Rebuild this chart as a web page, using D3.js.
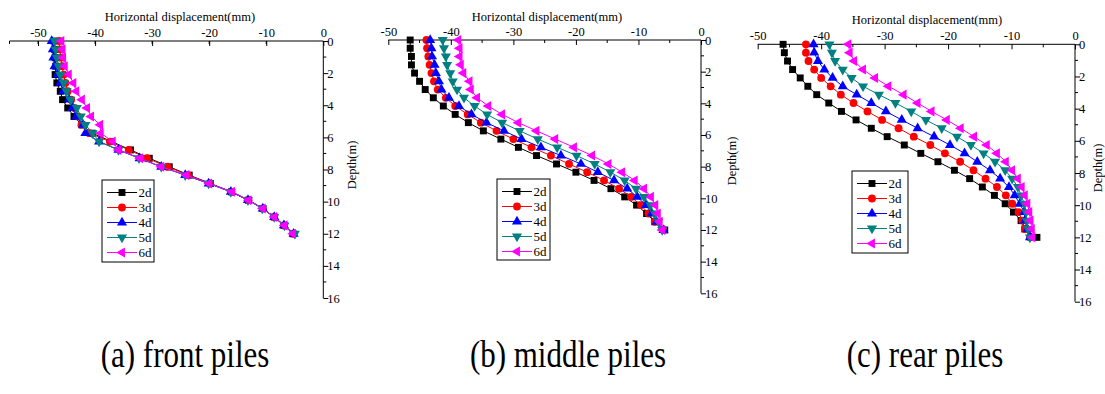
<!DOCTYPE html>
<html>
<head>
<meta charset="utf-8">
<script src="https://cdn.jsdelivr.net/npm/d3@7"></script>
<style>
  body { margin: 0; background: #fff; }
  svg { display: block; font-family: "Liberation Serif", "Times New Roman", serif; }
</style>
</head>
<body>
<svg id="chart" width="1105" height="394"></svg>
<script>
// ── data ───────────────────────────────────────────────────
const depth = [0, 0.52, 1.04, 1.57, 2.09, 2.61, 3.13, 3.65, 4.17, 4.70, 5.22, 5.74,
               6.26, 6.78, 7.30, 7.83, 8.35, 8.87, 9.39, 9.91, 10.43, 10.96, 11.48, 12.0];
const seriesNames = ['2d', '3d', '4d', '5d', '6d'];
const seriesColors = ['#000000', '#ff0000', '#0000ff', '#008080', '#ff00ff'];
const xTicks = [-50, -40, -30, -20, -10, 0];
const yTicks = [0, 2, 4, 6, 8, 10, 12, 14, 16];
const captions = ['(a) front piles', '(b) middle piles', '(c) rear piles'];

// (a) front piles
const front2d = [-47.2, -47.1, -47.0, -46.9, -47.0, -46.7, -46.1, -45.7, -44.8, -43.7, -42.3, -40.5,
                 -37.1, -33.8, -30.5, -27.0, -23.5, -19.8, -16.1, -13.1, -10.6, -8.6, -6.9, -5.3];
const front3d = [-46.3, -46.2, -46.0, -45.8, -45.5, -45.2, -44.8, -44.2, -43.6, -43.0, -42.4, -41.0,
                 -37.4, -34.1, -30.9, -27.3, -23.7, -19.9, -16.1, -13.1, -10.6, -8.6, -6.9, -5.3];
const front4d = [-47.6, -47.4, -47.3, -47.1, -46.6, -46.1, -45.6, -44.6, -44.0, -43.3, -42.1, -41.7,
                 -39.3, -35.9, -32.2, -28.4, -24.2, -20.1, -16.2, -13.2, -10.6, -8.6, -6.9, -5.2];
const front5d = [-47.1, -46.9, -46.7, -46.4, -46.1, -45.5, -45.0, -44.3, -43.2, -42.5, -41.7, -40.4,
                 -39.3, -35.9, -32.3, -28.4, -24.2, -20.1, -16.2, -13.2, -10.7, -8.6, -6.8, -5.0];
const front6d = [-45.9, -45.7, -45.6, -45.3, -44.6, -43.8, -43.3, -42.3, -41.4, -40.7, -39.1, -39.0,
                 -36.9, -35.9, -32.1, -28.4, -24.0, -20.0, -16.0, -13.1, -10.6, -8.6, -6.8, -5.3];

// (b) middle piles
const middle2d = [-46.5, -46.5, -46.3, -46.3, -45.8, -45.0, -44.1, -42.8, -41.2, -39.3, -37.2, -34.8,
                  -32.0, -29.2, -26.3, -23.1, -20.0, -17.1, -14.4, -12.2, -10.3, -8.7, -7.4, -5.8];
const middle3d = [-43.9, -43.8, -43.6, -43.4, -43.1, -42.7, -42.1, -40.8, -39.3, -37.3, -35.2, -32.7,
                  -30.0, -27.1, -24.0, -21.1, -18.2, -15.5, -13.1, -11.2, -9.6, -8.4, -7.4, -6.0];
const middle4d = [-43.3, -43.1, -43.0, -42.6, -42.4, -41.9, -41.5, -40.3, -38.7, -36.7, -34.3, -31.5,
                  -28.7, -25.6, -22.4, -19.2, -16.5, -13.9, -11.8, -10.2, -8.8, -7.9, -7.1, -6.0];
const middle5d = [-41.3, -41.1, -40.8, -40.6, -40.1, -39.7, -39.0, -37.9, -36.2, -34.2, -31.8, -29.0,
                  -26.1, -23.0, -19.9, -17.0, -14.5, -12.2, -10.4, -9.1, -8.1, -7.4, -6.8, -6.2];
const middle6d = [-38.8, -38.6, -38.6, -38.4, -38.0, -37.0, -36.8, -35.8, -34.0, -31.8, -29.2, -26.3,
                  -23.3, -20.3, -17.4, -14.8, -12.6, -10.6, -9.1, -8.0, -7.3, -6.9, -6.6, -6.2];

// (c) rear piles
const rear2d = [-46.0, -45.8, -45.3, -44.5, -43.3, -42.1, -40.7, -38.8, -36.8, -34.5, -32.1, -29.6,
                -26.9, -24.3, -21.6, -19.0, -16.6, -14.6, -12.7, -11.0, -9.7, -8.5, -7.9, -6.0];
const rear3d = [-42.4, -42.4, -42.0, -41.1, -40.0, -38.5, -36.9, -34.9, -32.7, -30.4, -27.8, -25.4,
                -22.8, -20.5, -18.1, -16.0, -14.1, -12.3, -10.9, -9.9, -8.9, -8.3, -7.9, -7.1];
const rear4d = [-41.2, -41.1, -40.5, -39.5, -38.2, -36.6, -34.4, -32.1, -29.8, -27.3, -24.8, -22.2,
                -19.7, -17.4, -15.4, -13.4, -11.8, -10.4, -9.5, -8.7, -8.0, -7.9, -7.5, -7.1];
const rear5d = [-38.7, -38.3, -37.8, -36.6, -35.2, -33.4, -30.9, -28.3, -25.8, -23.5, -21.0, -18.6,
                -16.4, -14.4, -12.6, -11.0, -9.9, -9.0, -8.5, -8.0, -7.7, -7.6, -7.4, -7.1];
const rear6d = [-35.7, -35.5, -34.8, -33.4, -31.5, -29.4, -27.0, -24.8, -22.6, -20.2, -18.0, -15.9,
                -13.9, -12.3, -10.9, -9.9, -9.0, -8.4, -7.9, -7.5, -7.2, -7.0, -6.8, -6.7];

// ── layout ────────────────────────────────────────────────
const panels = [
  { series: [front2d, front3d, front4d, front5d, front6d], xMin: -55,
    x0: 9.5, x1: 323.3, y0: 41, y1: 298, titleX: 180, titleY: 21,
    depthX: 352, depthY: 165, legend: { x: 102, y: 180, w: 52, h: 82 }, capX: 185 },
  { series: [middle2d, middle3d, middle4d, middle5d, middle6d], xMin: -50,
    x0: 388.3, x1: 701, y0: 40, y1: 293.3, titleX: 547, titleY: 21,
    depthX: 732, depthY: 161, legend: { x: 497, y: 179, w: 53, h: 81 }, capX: 568 },
  { series: [rear2d, rear3d, rear4d, rear5d, rear6d], xMin: -50,
    x0: 757.7, x1: 1075, y0: 44.3, y1: 301.7, titleX: 927, titleY: 24,
    depthX: 1098, depthY: 168, legend: { x: 852, y: 171, w: 56, h: 82 }, capX: 925 }
];

const symbols = [
  { type: d3.symbolSquare, size: 48, rot: 0 },
  { type: d3.symbolCircle, size: 48, rot: 0 },
  { type: d3.symbolTriangle, size: 44, rot: 0 },
  { type: d3.symbolTriangle, size: 44, rot: 180 },
  { type: d3.symbolTriangle, size: 44, rot: -90 }
];

const svg = d3.select('#chart');

panels.forEach((p, pi) => {
  const x = d3.scaleLinear().domain([p.xMin, 0]).range([p.x0, p.x1]);
  const y = d3.scaleLinear().domain([0, 16]).range([p.y0, p.y1]);
  const g = svg.append('g');

  // top x axis (ticks point into the plot)
  const xAxis = d3.axisTop(x).tickValues(xTicks).tickSize(-5).tickPadding(4.5)
    .tickFormat(d => String(d));
  const gx = g.append('g').attr('transform', `translate(0,${p.y0})`).call(xAxis);
  gx.select('.domain').attr('d', `M${p.x0},0H${p.x1}`);
  gx.selectAll('text').attr('font-size', 12.5).attr('font-family', 'Liberation Serif').attr('fill', '#000');
  const minorX = d3.range(p.xMin + 5, 0, 10);
  gx.selectAll('.minor').data(minorX).join('line')
    .attr('class', 'minor').attr('stroke', '#000')
    .attr('x1', d => x(d)).attr('x2', d => x(d)).attr('y1', 0).attr('y2', 3);
  if (p.xMin === -55) {
    gx.append('line').attr('stroke', '#000').attr('x1', x(-55)).attr('x2', x(-55)).attr('y1', 0).attr('y2', 3);
  }

  // right y axis (ticks point outward)
  const yAxis = d3.axisRight(y).tickValues(yTicks).tickSize(5).tickPadding(-1);
  const gy = g.append('g').attr('transform', `translate(${p.x1},0)`).call(yAxis);
  gy.select('.domain').attr('d', `M0,${p.y0}V${p.y1}`);
  gy.selectAll('text').attr('font-size', 12.5).attr('font-family', 'Liberation Serif').attr('fill', '#000');
  gy.selectAll('.minor').data(d3.range(1, 16, 2)).join('line')
    .attr('class', 'minor').attr('stroke', '#000')
    .attr('x1', 0).attr('x2', 3).attr('y1', d => y(d)).attr('y2', d => y(d));

  // axis titles
  g.append('text').attr('x', p.titleX).attr('y', p.titleY).attr('text-anchor', 'middle')
    .attr('font-size', 12.5).text('Horizontal displacement(mm)');
  g.append('text').attr('transform', `translate(${p.depthX},${p.depthY}) rotate(-90)`)
    .attr('text-anchor', 'middle').attr('dy', '0.35em').attr('font-size', 12.5).text('Depth(m)');

  // series
  const line = d3.line().x(d => x(d[0])).y(d => y(d[1]));
  p.series.forEach((vals, si) => {
    const pts = vals.map((v, i) => [v, depth[i]]);
    const sym = symbols[si];
    g.append('path').datum(pts).attr('d', line).attr('fill', 'none')
      .attr('stroke', seriesColors[si]).attr('stroke-width', 1);
    g.selectAll(null).data(pts).join('path')
      .attr('d', d3.symbol().type(sym.type).size(sym.size))
      .attr('transform', d => `translate(${x(d[0])},${y(d[1])}) rotate(${sym.rot})`)
      .attr('fill', seriesColors[si]);
  });

  // legend
  const L = p.legend;
  const lg = g.append('g');
  lg.append('rect').attr('x', L.x).attr('y', L.y).attr('width', L.w).attr('height', L.h)
    .attr('fill', '#fff').attr('stroke', '#000').attr('stroke-width', 1);
  seriesNames.forEach((name, si) => {
    const cy = L.y + 12.5 + si * 15;
    lg.append('line').attr('x1', L.x + 5).attr('x2', L.x + 35).attr('y1', cy).attr('y2', cy)
      .attr('stroke', seriesColors[si]).attr('stroke-width', 1);
    lg.append('path').attr('d', d3.symbol().type(symbols[si].type).size(symbols[si].size))
      .attr('transform', `translate(${L.x + 20},${cy}) rotate(${symbols[si].rot})`)
      .attr('fill', seriesColors[si]);
    lg.append('text').attr('x', L.x + 36.5).attr('y', cy).attr('dy', '0.35em')
      .attr('font-size', 13).text(name);
  });

  // caption (reference glyphs are tall and narrow)
  svg.append('text').attr('transform', `translate(${p.capX},367) scale(1,1.25)`)
    .attr('text-anchor', 'middle').attr('font-size', 31).text(captions[pi]);
});
</script>
</body>
</html>
